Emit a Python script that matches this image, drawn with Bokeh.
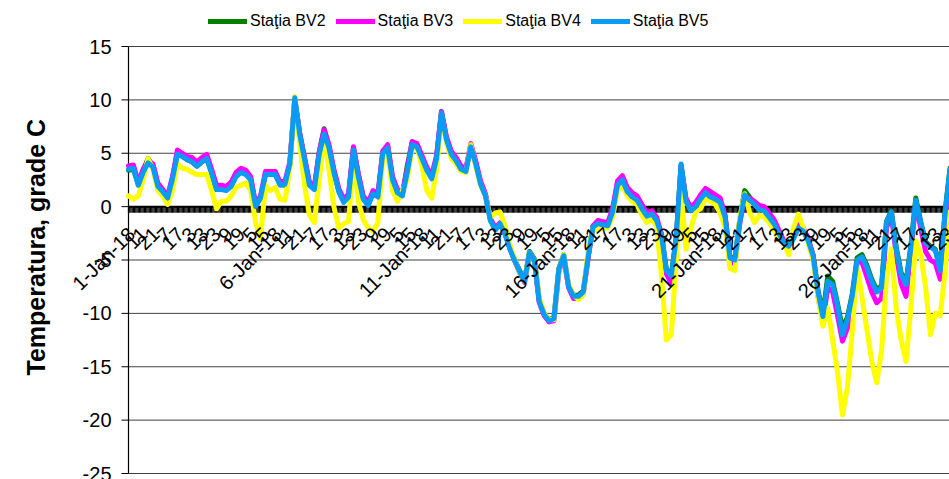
import math
from bokeh.plotting import figure
from bokeh.models import Range1d, Legend, LegendItem
from bokeh.core.properties import value
from bokeh.embed import file_html
from bokeh.resources import INLINE

# hours since 1-Jan-18 01:00, sampled every 4 hours
hours = list(range(0, 673, 4))

bv2 = [3.4, 3.5, 2.1, 3.4, 4.5, 3.8, 2.0, 1.4, 0.8, 2.7,
       5.0, 4.7, 4.4, 4.2, 3.8, 4.2, 4.5, 3.2, 1.6, 1.7,
       1.6, 2.0, 2.9, 3.3, 3.1, 2.6, 0.1, 0.8, 3.0, 3.1,
       3.1, 2.1, 2.0, 4.0, 10.1, 6.9, 4.5, 2.1, 1.7, 5.1,
       7.3, 5.6, 3.3, 1.5, 0.5, 1.0, 5.5, 3.0, 0.8, 0.2,
       1.3, 1.0, 5.1, 5.6, 2.6, 1.4, 1.1, 3.8, 6.0, 5.7,
       4.6, 3.5, 2.7, 4.6, 8.9, 6.4, 5.0, 4.4, 3.6, 3.4,
       5.7, 4.1, 2.2, 1.1, -1.2, -2.1, -1.6, -2.5, -3.9, -5.0,
       -6.0, -6.9, -4.2, -4.9, -8.8, -10.0, -10.6, -10.4, -5.8, -4.5,
       -7.4, -8.3, -8.3, -7.9, -4.6, -1.8, -1.5, -1.6, -1.7, -0.4,
       2.1, 2.6, 1.5, 1.0, 0.7, -0.1, -0.8, -0.6, -1.2, -2.6,
       -5.9, -6.4, -2.9, 3.9, 0.6, -0.3, 0.1, 0.8, 1.4, 1.0,
       0.8, 0.5, -0.9, -4.7, -4.9, -1.2, 1.5, 0.9, 0.3, -0.2,
       -0.3, -0.9, -1.5, -2.4, -3.3, -3.6, -2.9, -1.9, -2.2, -3.1,
       -4.5, -7.8, -10.1, -6.5, -7.0, -9.1, -11.4, -10.4, -8.2, -4.8,
       -4.5, -5.5, -6.8, -7.8, -7.4, -1.4, -0.4, -3.8, -6.2, -7.1,
       -3.6, 0.8, -1.4, -3.3, -3.7, -4.0, -5.8, -0.4, 3.6]

bv3 = [3.8, 3.9, 2.3, 3.5, 4.3, 4.0, 2.2, 1.6, 1.0, 2.8,
       5.3, 5.0, 4.7, 4.6, 4.2, 4.6, 4.9, 3.5, 2.0, 2.0,
       1.9, 2.3, 3.2, 3.6, 3.4, 2.8, 0.2, 1.0, 3.3, 3.3,
       3.3, 2.3, 2.4, 4.2, 10.0, 6.9, 4.6, 2.3, 1.9, 5.1,
       7.2, 5.8, 3.5, 1.7, 0.7, 1.2, 5.6, 3.1, 1.0, 0.4,
       1.5, 1.2, 5.2, 5.8, 2.8, 1.6, 1.3, 3.5, 6.1, 5.9,
       4.8, 3.7, 2.9, 4.8, 8.9, 6.6, 5.2, 4.6, 3.8, 3.6,
       5.9, 4.3, 2.4, 1.2, -1.1, -2.0, -1.5, -2.5, -3.9, -5.1,
       -6.2, -7.1, -4.4, -5.1, -9.0, -10.2, -10.8, -10.7, -6.1, -4.7,
       -7.6, -8.6, -8.6, -8.2, -4.8, -1.8, -1.3, -1.4, -1.5, -0.2,
       2.4, 2.9, 1.8, 1.3, 1.0, 0.2, -0.6, -0.4, -1.0, -2.6,
       -6.3, -7.2, -3.3, 3.8, 0.8, -0.1, 0.4, 1.1, 1.7, 1.4,
       1.1, 0.8, -0.8, -5.0, -5.4, -1.6, 1.0, 0.8, 0.5, 0.1,
       0.0, -0.6, -1.2, -2.2, -3.2, -3.6, -2.8, -1.7, -2.0, -3.0,
       -4.6, -8.4, -10.8, -7.6, -8.0, -10.2, -12.6, -11.4, -8.8, -5.2,
       -5.2, -6.6, -8.0, -9.0, -8.6, -2.0, -0.8, -4.5, -7.2, -8.4,
       -4.3, 0.4, -2.0, -4.2, -5.0, -5.3, -6.8, -1.2, 3.0]

bv4 = [1.0, 0.7, 1.0, 2.5, 4.5, 3.5, 1.5, 1.0, 0.2, 1.5,
       4.0, 3.6, 3.5, 3.2, 3.0, 3.0, 3.0, 1.5, -0.2, 0.5,
       0.5, 1.0, 1.8, 2.0, 2.2, 1.5, -1.5, -3.0, 2.0, 1.5,
       1.8, 0.7, 0.6, 3.5, 10.3, 6.0, 2.0, -0.8, -1.5, 2.5,
       6.5, 3.5, 0.0, -2.0, -1.6, -1.4, 4.5, 0.5, -1.2, -2.0,
       -2.3, -1.5, 4.5, 5.0, 1.5, 0.5, 1.5, 2.5, 5.5, 5.5,
       3.8, 1.5, 0.8, 3.5, 8.5, 6.0, 4.5, 4.0, 3.3, 3.2,
       5.8, 3.8, 2.0, 1.0, -1.0, -0.6, -0.5, -1.8, -3.5, -5.0,
       -6.2, -7.0, -4.3, -5.0, -8.5, -10.0, -10.6, -10.6, -6.0, -4.5,
       -7.3, -8.3, -8.7, -8.3, -4.0, -2.0, -2.2, -2.0, -2.0, -1.0,
       1.5, 2.0, 1.0, 0.5, 0.2, -0.8, -1.5, -1.2, -1.8, -6.5,
       -12.5, -12.0, -5.0, 1.5, -4.0, -2.0, -0.5, -0.2, 0.8, 0.5,
       0.2, -0.6, -2.0, -5.8, -6.0, -1.0, 1.2, -0.5, -1.5, -0.8,
       -1.0, -1.5, -2.2, -3.0, -3.3, -4.5, -2.0, -0.7, -2.0, -3.5,
       -5.0, -8.5, -11.2, -9.5, -12.5, -15.5, -19.5, -17.0, -11.8, -5.5,
       -8.5, -11.5, -14.5, -16.5, -13.5, -6.8, -4.0, -9.5, -12.5, -14.5,
       -9.5, -3.2, -4.5, -7.5, -12.0, -10.0, -10.2, -6.0, -0.5]

bv5 = [3.5, 3.6, 2.0, 3.2, 4.1, 3.7, 1.9, 1.4, 0.8, 2.6,
       4.9, 4.7, 4.4, 4.2, 3.8, 4.2, 4.5, 3.1, 1.6, 1.6,
       1.5, 1.9, 2.8, 3.2, 3.0, 2.5, 0.0, 0.8, 3.0, 3.0,
       3.0, 2.0, 2.1, 4.0, 10.2, 6.8, 4.4, 2.0, 1.6, 4.9,
       6.8, 5.5, 3.2, 1.4, 0.4, 0.9, 5.3, 2.8, 0.7, 0.1,
       1.2, 0.9, 5.0, 5.5, 2.5, 1.3, 1.0, 3.2, 5.8, 5.6,
       4.5, 3.4, 2.6, 4.5, 8.8, 6.3, 4.9, 4.3, 3.5, 3.3,
       5.6, 4.0, 2.1, 1.0, -1.3, -2.2, -1.6, -2.6, -4.0, -5.1,
       -6.1, -7.0, -4.3, -5.0, -8.9, -10.1, -10.7, -10.5, -5.9, -4.6,
       -7.5, -8.4, -8.4, -8.0, -4.7, -1.9, -1.6, -1.7, -1.8, -0.5,
       2.0, 2.5, 1.4, 0.9, 0.6, -0.2, -0.9, -0.7, -1.3, -2.7,
       -6.0, -6.5, -3.0, 4.0, 0.5, -0.4, 0.0, 0.7, 1.3, 0.9,
       0.7, 0.4, -1.0, -4.8, -5.0, -1.5, 1.1, 0.6, 0.2, -0.3,
       -0.4, -1.0, -1.6, -2.5, -3.4, -3.7, -3.0, -2.0, -2.3, -3.2,
       -4.6, -8.0, -10.3, -7.0, -7.3, -9.3, -12.0, -10.6, -8.4, -5.0,
       -4.7, -5.7, -7.0, -8.0, -7.6, -1.5, -0.5, -4.0, -6.4, -7.3,
       -3.8, 0.6, -1.5, -3.4, -3.8, -4.1, -6.0, -0.5, 3.5]

series_names = ["Sta\u0163ia BV2", "Sta\u0163ia BV3", "Sta\u0163ia BV4", "Sta\u0163ia BV5"]
series_colors = ["#008000", "#FF00FF", "#FFFF00", "#0A9CF5"]

y_title = "Temperatura, grade C"
y_ticks = [-25, -20, -15, -10, -5, 0, 5, 10, 15]
y_tick_labels = ["-25", "-20", "-15", "-10", "-5", "0", "5", "10", "15"]
x_tick_hours = list(range(0, 671, 10))
x_tick_labels = [
    "1-Jan-18", "11", "21", "7", "17", "3", "13", "23", "9", "19", "5", "15",
    "6-Jan-18", "11", "21", "7", "17", "3", "13", "23", "9", "19", "5", "15",
    "11-Jan-18", "11", "21", "7", "17", "3", "13", "23", "9", "19", "5", "15",
    "16-Jan-18", "11", "21", "7", "17", "3", "13", "23", "9", "19", "5", "15",
    "21-Jan-18", "11", "21", "7", "17", "3", "13", "23", "9", "19", "5", "15",
    "26-Jan-18", "11", "21", "7", "17", "3", "13", "23"]
x_minor_hours = list(range(0, 672))

# ---- layout constants (pixels -> data units) ----
W, H = 949, 479
PLOT_LEFT, PLOT_TOP, PLOT_BOTTOM_PAD = 128, 46, 6
PX_PER_H = 1.2225
PX_PER_DEG = 10.675
X_START = -PLOT_LEFT / PX_PER_H
X_END = (W - PLOT_LEFT) / PX_PER_H
Y_HI = y_ticks[-1] + PLOT_TOP / PX_PER_DEG
Y_LO = y_ticks[0] - PLOT_BOTTOM_PAD / PX_PER_DEG
TICK_LEN = 6 / PX_PER_DEG
YTICK_LEN = 7 / PX_PER_H
TITLE_Y = -3.8
FONT = "Liberation Sans"

p = figure(width=W, height=H, output_backend="svg", toolbar_location=None,
           x_range=Range1d(X_START, X_END), y_range=Range1d(Y_LO, Y_HI),
           min_border_left=0, min_border_right=0, min_border_top=0, min_border_bottom=0)
p.xaxis.visible = False
p.yaxis.visible = False
p.xgrid.visible = False
p.ygrid.visible = False
p.outline_line_color = None
p.background_fill_color = "white"

n_y = len(y_ticks)
# horizontal gridlines
p.segment(x0=[0] * n_y, y0=y_ticks, x1=[X_END] * n_y, y1=y_ticks,
          line_color="black", line_alpha=0.75, line_width=1)
# value axis: line, ticks, labels, title
p.segment(x0=[0], y0=[y_ticks[0]], x1=[0], y1=[y_ticks[-1]], line_color="black", line_width=1.2)
p.segment(x0=[-YTICK_LEN] * n_y, y0=y_ticks, x1=[0] * n_y, y1=y_ticks, line_color="black", line_width=1)
p.text(x=[0] * n_y, y=y_ticks, text=y_tick_labels, x_offset=-17,
       text_align="right", text_baseline="middle",
       text_font=value(FONT), text_font_size=value("20px"), text_color="black")
p.text(x=[0], y=[TITLE_Y], text=[y_title], angle=math.pi / 2, x_offset=-93,
       text_align="center", text_baseline="middle",
       text_font=value(FONT), text_font_style="bold", text_font_size=value("25px"), text_color="black")

# category axis crossing at zero: dense hourly tick marks, then the axis line
p.segment(x0=x_minor_hours, y0=[0] * len(x_minor_hours),
          x1=x_minor_hours, y1=[-TICK_LEN] * len(x_minor_hours),
          line_color="black", line_width=1.2)
p.segment(x0=[0], y0=[0], x1=[X_END], y1=[0], line_color="black", line_width=2)

renderers = []
for vals, col in zip([bv2, bv3, bv4, bv5], series_colors):
    r = p.line(hours, vals, line_color=col, line_width=5, line_join="round", line_cap="round")
    renderers.append(r)

p.text(x=x_tick_hours, y=[0] * len(x_tick_hours), text=x_tick_labels,
       angle=math.pi / 4, text_align="right", text_baseline="middle",
       x_offset=3, y_offset=24,
       text_font=value(FONT), text_font_size=value("20px"), text_color="black")

legend = Legend(items=[LegendItem(label=n, renderers=[r]) for n, r in zip(series_names, renderers)],
                orientation="horizontal", location=(208, 449),
                glyph_width=39, glyph_height=18, label_standoff=3, spacing=10,
                padding=0, margin=0, border_line_color=None, background_fill_alpha=0,
                label_text_font=FONT, label_text_font_size="16px", label_text_color="black")
p.add_layout(legend, "center")

open("out.html", "w").write(file_html(p, INLINE))
